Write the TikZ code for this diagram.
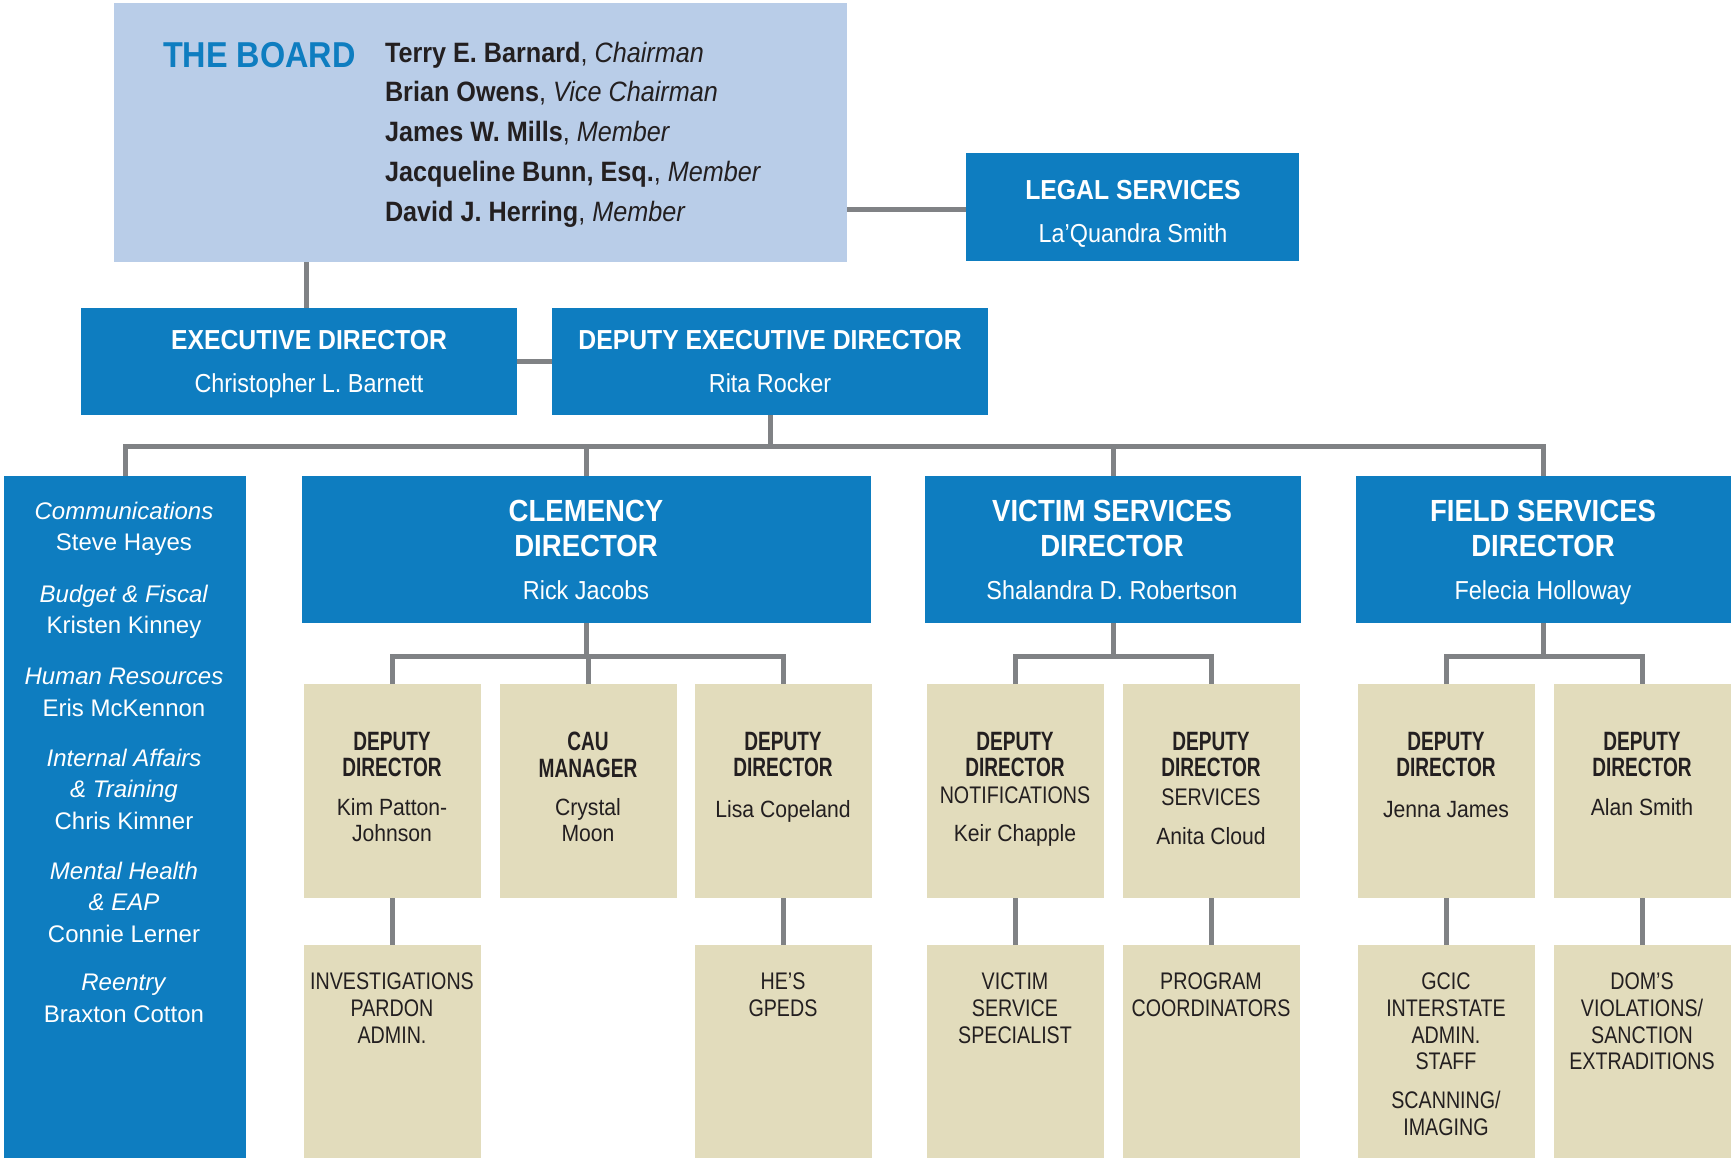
\documentclass[tikz,border=0pt]{standalone}
\usepackage{fontspec}
\setmainfont[FakeStretch=0.9]{Liberation Sans}
\newfontfamily\capsfont[FakeStretch=0.82]{Liberation Sans}
\newfontfamily\narrowfont[FakeStretch=0.72]{Liberation Sans}
\newfontfamily\widefont{Liberation Sans}
\usetikzlibrary{positioning}

\definecolor{dopblue}{RGB}{14,125,192}
\definecolor{boardblue}{RGB}{185,205,232}
\definecolor{boxtan}{RGB}{226,220,188}
\definecolor{linegrey}{RGB}{128,130,133}
\definecolor{inkdark}{RGB}{35,31,32}

\begin{document}
\begin{tikzpicture}[
    x=1pt, y=-1pt,
    every node/.style={inner sep=0, outer sep=0},
    bluebox/.style={fill=dopblue},
    tanbox/.style={fill=boxtan, minimum width=177, minimum height=214},
    tanlow/.style={fill=boxtan, minimum width=177, minimum height=213},
    conn/.style={draw=linegrey, line width=5},
    hd/.style={text=white, font=\bfseries\fontsize{27.5}{33}\selectfont, anchor=base},
    bighd/.style={text=white, font=\bfseries\fontsize{30.6}{35}\selectfont, anchor=north, align=center},
    nm/.style={text=white, font=\fontsize{26}{30}\selectfont, anchor=base},
    side/.style={text=white, font=\widefont\fontsize{24}{31.5}\selectfont, anchor=north, align=center},
    tanhd/.style={text=inkdark, font=\narrowfont\bfseries\fontsize{26.5}{26.5}\selectfont, anchor=north, align=center},
    tancaps/.style={text=inkdark, font=\capsfont\fontsize{24}{26.7}\selectfont, anchor=north, align=center},
    tannm/.style={text=inkdark, font=\fontsize{23.5}{26}\selectfont, anchor=north, align=center}
]
\useasboundingbox (0,0) rectangle (1731,1158);

% The board
\node[fill=boardblue, minimum width=733, minimum height=259] (board) at (480.5,132.5) {};
\node[anchor=north west, text=dopblue, font=\bfseries\fontsize{36}{40}\selectfont] (boardt) at (163,42) {THE BOARD};
\node[anchor=north west, align=left, text=inkdark, font=\fontsize{28}{39.7}\selectfont] (members) at (385,42)
    {\textbf{Terry E. Barnard}, \textit{Chairman}\\
     \textbf{Brian Owens}, \textit{Vice Chairman}\\
     \textbf{James W. Mills}, \textit{Member}\\
     \textbf{Jacqueline Bunn, Esq.}, \textit{Member}\\
     \textbf{David J. Herring}, \textit{Member}};

% Legal services
\node[bluebox, minimum width=333, minimum height=108] (legal) at (1132.5,207) {};
\node[hd] (legalt) at (1133,200) {LEGAL SERVICES};
\node[nm] (legaln) at (1133,243) {La’Quandra Smith};

% Executive and deputy
\node[bluebox, minimum width=436, minimum height=107] (exec) at (299,361.5) {};
\node[hd] (exect) at (309,349) {EXECUTIVE DIRECTOR};
\node[nm] (execn) at (309,392) {Christopher L. Barnett};
\node[bluebox, minimum width=436, minimum height=107] (dep) at (770,361.5) {};
\node[hd] (dept) at (770,349) {DEPUTY EXECUTIVE DIRECTOR};
\node[nm] (depn) at (770,392) {Rita Rocker};

% Staff column
\node[bluebox, minimum width=242, minimum height=682] (staff) at (125,817) {};
\node[side] (comm) at (124,502) {\textit{Communications}\\Steve Hayes};
\node[side] (budget) at (124,585) {\textit{Budget \& Fiscal}\\Kristen Kinney};
\node[side] (hr) at (124,668) {\textit{Human Resources}\\Eris McKennon};
\node[side] (affairs) at (124,749) {\textit{Internal Affairs}\\\textit{\& Training}\\Chris Kimner};
\node[side] (health) at (124,862) {\textit{Mental Health}\\\textit{\& EAP}\\Connie Lerner};
\node[side] (reentry) at (124,974) {\textit{Reentry}\\Braxton Cotton};

% Division directors
\node[bluebox, minimum width=569, minimum height=147] (clem) at (586.5,549.5) {};
\node[bighd] (clemt) at (586,500) {CLEMENCY\\DIRECTOR};
\node[nm] (clemn) at (586,599) {Rick Jacobs};
\node[bluebox, minimum width=376, minimum height=147] (victim) at (1113,549.5) {};
\node[bighd] (victimt) at (1112,500) {VICTIM SERVICES\\DIRECTOR};
\node[nm] (victimn) at (1112,599) {Shalandra D. Robertson};
\node[bluebox, minimum width=375, minimum height=147] (field) at (1543.5,549.5) {};
\node[bighd] (fieldt) at (1543,500) {FIELD SERVICES\\DIRECTOR};
\node[nm] (fieldn) at (1543,599) {Felecia Holloway};

% Deputies
\node[tanbox] (ta) at (392.5,791) {};
\node[tanhd] (tat) at (392,732) {DEPUTY\\DIRECTOR};
\node[tannm] (tan) at (392,798) {Kim Patton-\\Johnson};
\node[tanbox] (tb) at (588,791) {};
\node[tanhd] (tbt) at (588,732) {CAU\\MANAGER};
\node[tannm] (tbn) at (588,798) {Crystal\\Moon};
\node[tanbox] (tc) at (783,791) {};
\node[tanhd] (tct) at (783,732) {DEPUTY\\DIRECTOR};
\node[tannm] (tcn) at (783,800) {Lisa Copeland};
\node[tanbox] (td) at (1015,791) {};
\node[tanhd] (tdt) at (1015,732) {DEPUTY\\DIRECTOR};
\node[tancaps] (tds) at (1015,787) {NOTIFICATIONS};
\node[tannm] (tdn) at (1015,824) {Keir Chapple};
\node[tanbox] (te) at (1211,791) {};
\node[tanhd] (tet) at (1211,732) {DEPUTY\\DIRECTOR};
\node[tancaps] (tes) at (1211,789) {SERVICES};
\node[tannm] (ten) at (1211,827) {Anita Cloud};
\node[tanbox] (tf) at (1446,791) {};
\node[tanhd] (tft) at (1446,732) {DEPUTY\\DIRECTOR};
\node[tannm] (tfn) at (1446,801) {Jenna James};
\node[tanbox] (tg) at (1642.5,791) {};
\node[tanhd] (tgt) at (1642,732) {DEPUTY\\DIRECTOR};
\node[tannm] (tgn) at (1642,798) {Alan Smith};

% Units
\node[tanlow] (ua) at (392.5,1051.5) {};
\node[tancaps] (uat) at (392,973) {INVESTIGATIONS\\PARDON\\ADMIN.};
\node[tanlow] (uc) at (783,1051.5) {};
\node[tancaps] (uct) at (783,973) {HE’S\\GPEDS};
\node[tanlow] (ud) at (1015,1051.5) {};
\node[tancaps] (udt) at (1015,973) {VICTIM\\SERVICE\\SPECIALIST};
\node[tanlow] (ue) at (1211,1051.5) {};
\node[tancaps] (uet) at (1211,973) {PROGRAM\\COORDINATORS};
\node[tanlow] (uf) at (1446,1051.5) {};
\node[tancaps] (uft) at (1446,973) {GCIC\\INTERSTATE\\ADMIN.\\STAFF};
\node[tancaps] (ufs) at (1446,1091) {SCANNING/\\IMAGING};
\node[tanlow] (ug) at (1642.5,1051.5) {};
\node[tancaps] (ugt) at (1642,973) {DOM’S\\VIOLATIONS/\\SANCTION\\EXTRADITIONS};

% Connectors
\draw[conn] ([xshift=7]exec.north) -- ([xshift=7]exec.north |- board.south);
\draw[conn] ([yshift=-3]legal.west) -- ([yshift=-3]legal.west -| board.east);
\draw[conn] (exec.east) -- (dep.west);
\draw[conn] (dep.south) -- ++(0,31) coordinate (bus);
\draw[conn] (staff.north) |- (bus) -| (field.north);
\draw[conn] (clem.north) -- (clem.north |- bus);
\draw[conn] (victim.north) -- (victim.north |- bus);

\draw[conn] (clem.south) -- ++(0,33) coordinate (cbus);
\draw[conn] (ta.north) |- (cbus) -| (tc.north);
\draw[conn] (tb.north) -- (tb.north |- cbus);
\draw[conn] (victim.south) -- ++(0,33) coordinate (vbus);
\draw[conn] (td.north) |- (vbus) -| (te.north);
\draw[conn] (field.south) -- ++(0,33) coordinate (fbus);
\draw[conn] (tf.north) |- (fbus) -| (tg.north);

\draw[conn] (ta.south) -- (ua.north);
\draw[conn] (tc.south) -- (uc.north);
\draw[conn] (td.south) -- (ud.north);
\draw[conn] (te.south) -- (ue.north);
\draw[conn] (tf.south) -- (uf.north);
\draw[conn] (tg.south) -- (ug.north);

\end{tikzpicture}
\end{document}
